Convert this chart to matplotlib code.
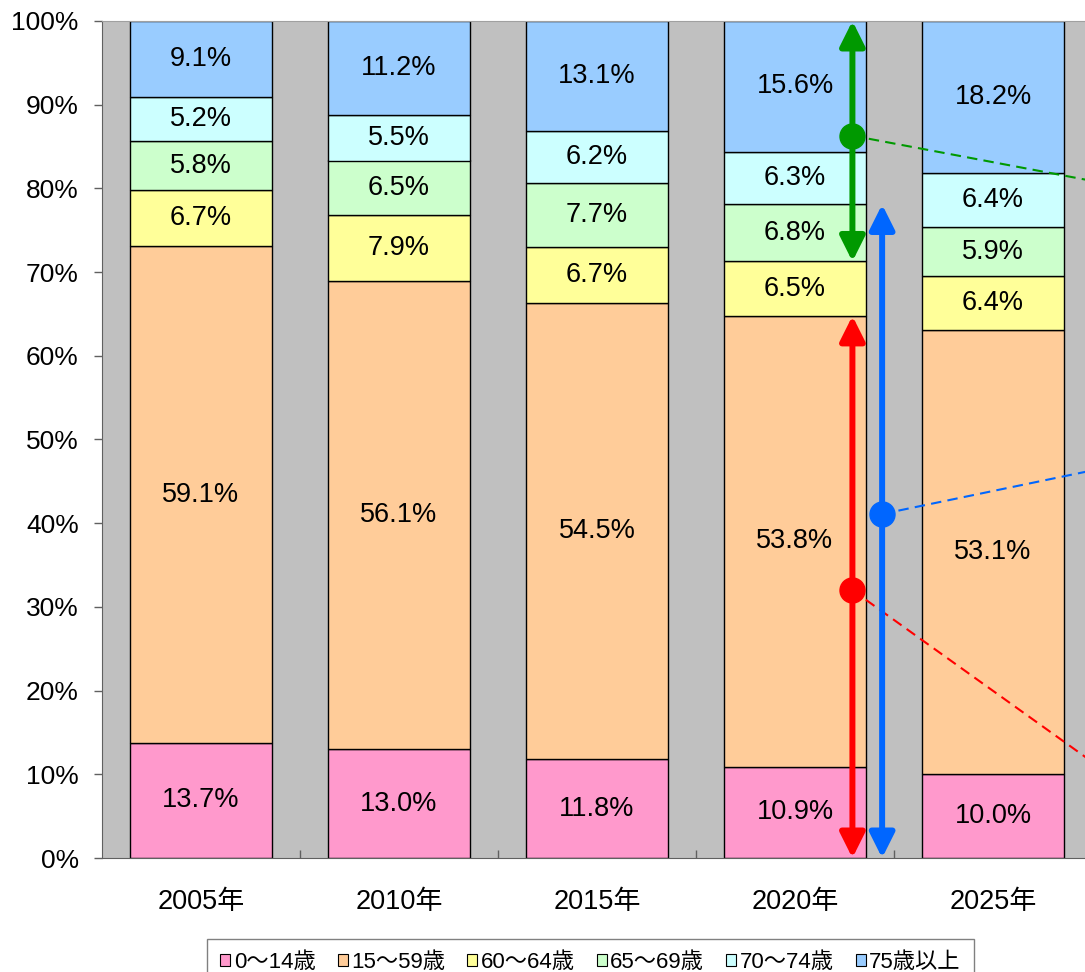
import numpy as np
import matplotlib
matplotlib.use('Agg')
from matplotlib import pyplot as plt
from matplotlib.patches import Patch, FancyArrowPatch

plt.rcParams['font.family'] = ['Liberation Sans', 'Noto Sans CJK JP']

years = ['2005年', '2010年', '2015年', '2020年', '2025年']
groups = ['0～14歳', '15～59歳', '60～64歳', '65～69歳', '70～74歳', '75歳以上']
colors = ['#FF99CC', '#FFCC99', '#FFFF99', '#CCFFCC', '#CCFFFF', '#99CCFF']

age_0_14 = [13.7, 13.0, 11.8, 10.9, 10.0]
age_15_59 = [59.1, 56.1, 54.5, 53.8, 53.1]
age_60_64 = [6.7, 7.9, 6.7, 6.5, 6.4]
age_65_69 = [5.8, 6.5, 7.7, 6.8, 5.9]
age_70_74 = [5.2, 5.5, 6.2, 6.3, 6.4]
age_75_up = [9.1, 11.2, 13.1, 15.6, 18.2]

# markers on the 2020 arrows and where the dashed guide lines leave the picture
marker_red = 32.0
marker_blue = 41.1
marker_green = 86.3
guide_end_red = 11.5
guide_end_blue = 46.3
guide_end_green = 80.9

values = np.array([age_0_14, age_15_59, age_60_64, age_65_69, age_70_74, age_75_up])
shares = values / values.sum(axis=0) * 100
bottoms = np.vstack([np.zeros(len(years)), np.cumsum(shares, axis=0)[:-1]])
x = np.arange(len(years))

fig = plt.figure(figsize=(10.85, 9.72), dpi=100)
ax = fig.add_axes([102 / 1085, 114 / 972, 990 / 1085, 837 / 972])
ax.set_facecolor('#C0C0C0')

for k in range(len(groups)):
    ax.bar(x, shares[k], width=0.72, bottom=bottoms[k], color=colors[k],
           edgecolor='black', linewidth=1, zorder=2)
    for i in range(len(years)):
        ax.text(x[i], bottoms[k][i] + shares[k][i] / 2, '%.1f%%' % values[k][i],
                ha='center', va='center', fontsize=19.5, zorder=3)

# arrows on the 2020 bar
i20 = years.index('2020年')
x_left = x[i20] + 0.29
x_right = x[i20] + 0.44
top_working = bottoms[2][i20]      # 0-14 + 15-59
top_under65 = bottoms[3][i20]      # up to 60-64
top_under70 = bottoms[4][i20]      # up to 65-69
arrows = [
    (x_left, 0, top_working, marker_red, guide_end_red, '#FF0000'),
    (x_right, 0, top_under70, marker_blue, guide_end_blue, '#0066FF'),
    (x_left, top_under65, 100, marker_green, guide_end_green, '#009900'),
]
for xa, y0, y1, ym, yend, c in arrows:
    arr = FancyArrowPatch((xa, y0), (xa, y1),
                          arrowstyle='<|-|>,head_length=15,head_width=7.5',
                          mutation_scale=1, lw=4.3, color=c,
                          shrinkA=0, shrinkB=0, zorder=5, clip_on=False)
    ax.add_patch(arr)
    ax.plot([xa, 4.5], [ym, yend], ls=(0, (5, 3)), lw=1.5, color=c,
            clip_on=False, zorder=4)
    ax.plot(xa, ym, 'o', ms=18, color=c, zorder=6, clip_on=False)

ax.set_xlim(-0.5, 4.5)
ax.set_ylim(0, 100)
ax.set_yticks(np.arange(0, 101, 10))
ax.set_yticklabels(['%d%%' % v for v in range(0, 101, 10)])
ax.tick_params(axis='y', direction='out', length=5.8, width=1, color='#606060',
               labelsize=19, pad=11)
ax.set_xticks(x)
ax.set_xticklabels(years)
ax.tick_params(axis='x', which='major', length=0, labelsize=19.5, pad=22)
ax.set_xticks(x[:-1] + 0.5, minor=True)
ax.tick_params(axis='x', which='minor', direction='in', length=5.8, width=1,
               color='#606060')

ax.spines['right'].set_visible(False)
ax.spines['top'].set_color('#A0A0A0')
ax.spines['left'].set_color('#606060')
ax.spines['bottom'].set_color('#606060')

handles = [Patch(facecolor=c, edgecolor='black', linewidth=0.8) for c in colors]
leg = fig.legend(handles, groups, loc='upper left',
                 bbox_to_anchor=(207 / 1085, 1 - 939 / 972), ncol=6, fontsize=16,
                 handlelength=0.45, handleheight=0.45, handletextpad=0.15,
                 columnspacing=1.0, fancybox=False, edgecolor='#808080',
                 framealpha=1, borderaxespad=0, borderpad=0.6)
leg.get_frame().set_linewidth(1)

fig.savefig('out.png', dpi=100)
plt.close()
